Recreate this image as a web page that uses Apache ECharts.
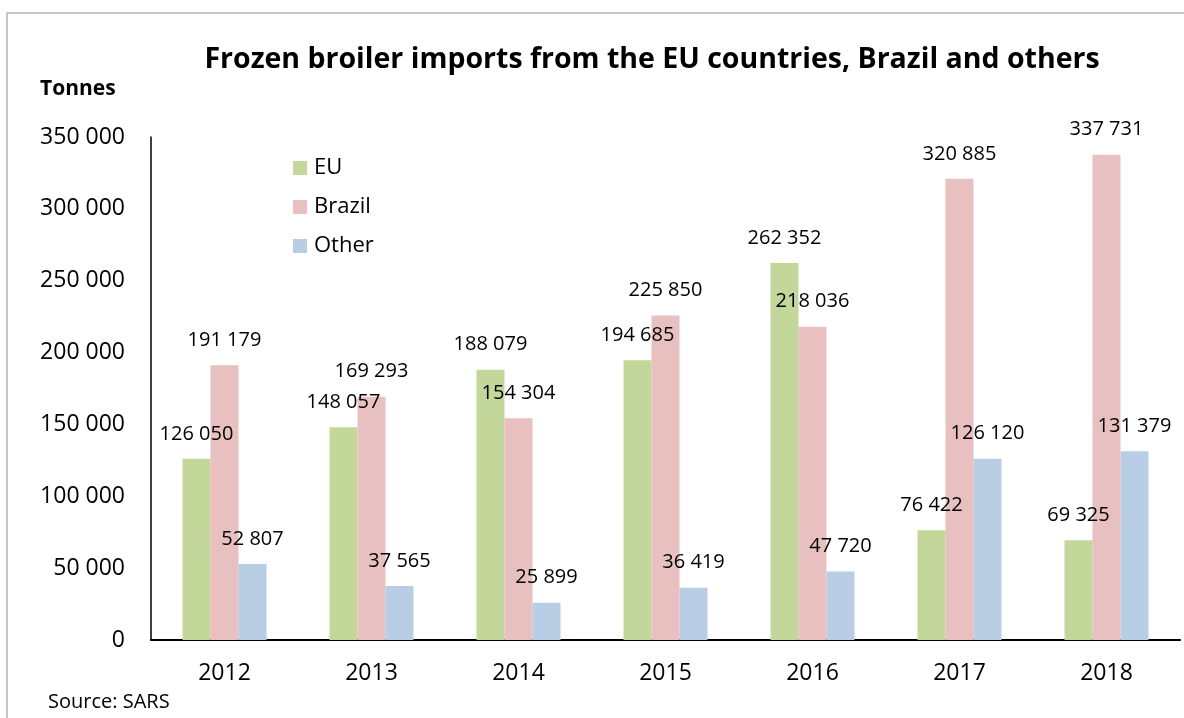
<!DOCTYPE html>
<html>
<head>
<meta charset="utf-8">
<script src="https://cdn.jsdelivr.net/npm/echarts@6/dist/echarts.min.js"></script>
<style>
  html, body { margin: 0; padding: 0; background: #fff; }
  #chart { width: 1184px; height: 718px; }
</style>
</head>
<body>
<div id="chart"></div>
<script>
  const years = ['2012', '2013', '2014', '2015', '2016', '2017', '2018']
  const euValues = [126050, 148057, 188079, 194685, 262352, 76422, 69325]
  const brazilValues = [191179, 169293, 154304, 225850, 218036, 320885, 337731]
  const otherValues = [52807, 37565, 25899, 36419, 47720, 126120, 131379]

  const font = '"Open Sans", sans-serif'

  // 126050 -> "126 050"
  function spaced(v) {
    return String(v).replace(/\B(?=(\d{3})+(?!\d))/g, ' ')
  }

  const labelOption = {
    show: true,
    position: 'top',
    distance: 15,
    color: '#000',
    fontFamily: font,
    fontSize: 20,
    formatter: p => spaced(p.value)
  }

  const chart = echarts.init(document.getElementById('chart'))

  chart.setOption({
    animation: false,
    color: ['#c4d79b', '#e8c0bf', '#b9cde5'],
    textStyle: {fontFamily: font},
    title: {
      text: 'Frozen broiler imports from the EU countries, Brazil and others',
      left: 647,
      top: 40,
      textAlign: 'center',
      textStyle: {fontSize: 28.5, fontWeight: 'bold', color: '#000', fontFamily: font}
    },
    graphic: [
      {
        type: 'rect',
        shape: {x: 7, y: 13, width: 1200, height: 720},
        style: {fill: 'none', stroke: '#c6c6c6', lineWidth: 2},
        silent: true
      },
      {
        type: 'text',
        left: 40,
        top: 79,
        style: {text: 'Tonnes', font: 'bold 21px "Open Sans", sans-serif', fill: '#000'}
      },
      {
        type: 'text',
        left: 48,
        top: 692,
        style: {text: 'Source: SARS', font: '20px "Open Sans", sans-serif', fill: '#000'}
      }
    ],
    legend: {
      data: ['EU', 'Brazil', 'Other'],
      orient: 'vertical',
      left: 288,
      top: 152,
      itemWidth: 14,
      itemHeight: 14,
      itemGap: 17,
      icon: 'rect',
      textStyle: {fontSize: 22, color: '#000', fontFamily: font, padding: [0, 0, 0, 2]}
    },
    grid: {
      left: 151,
      right: 4,
      top: 137,
      bottom: 78,
      containLabel: false
    },
    xAxis: {
      type: 'category',
      data: years,
      axisTick: {show: false},
      axisLine: {lineStyle: {color: '#000', width: 2}},
      axisLabel: {color: '#000', fontSize: 23, margin: 22, fontFamily: font}
    },
    yAxis: {
      type: 'value',
      min: 0,
      max: 350000,
      interval: 50000,
      splitLine: {show: false},
      axisTick: {show: false},
      axisLine: {show: true, lineStyle: {color: '#000', width: 1.5}},
      axisLabel: {color: '#000', fontSize: 23, margin: 26, fontFamily: font, formatter: v => spaced(v)}
    },
    series: [
      {name: 'EU', type: 'bar', barWidth: 28, barGap: 0, label: labelOption, data: euValues},
      {name: 'Brazil', type: 'bar', barWidth: 28, barGap: 0, label: labelOption, data: brazilValues},
      {name: 'Other', type: 'bar', barWidth: 28, barGap: 0, label: labelOption, data: otherValues}
    ]
  })
</script>
</body>
</html>
